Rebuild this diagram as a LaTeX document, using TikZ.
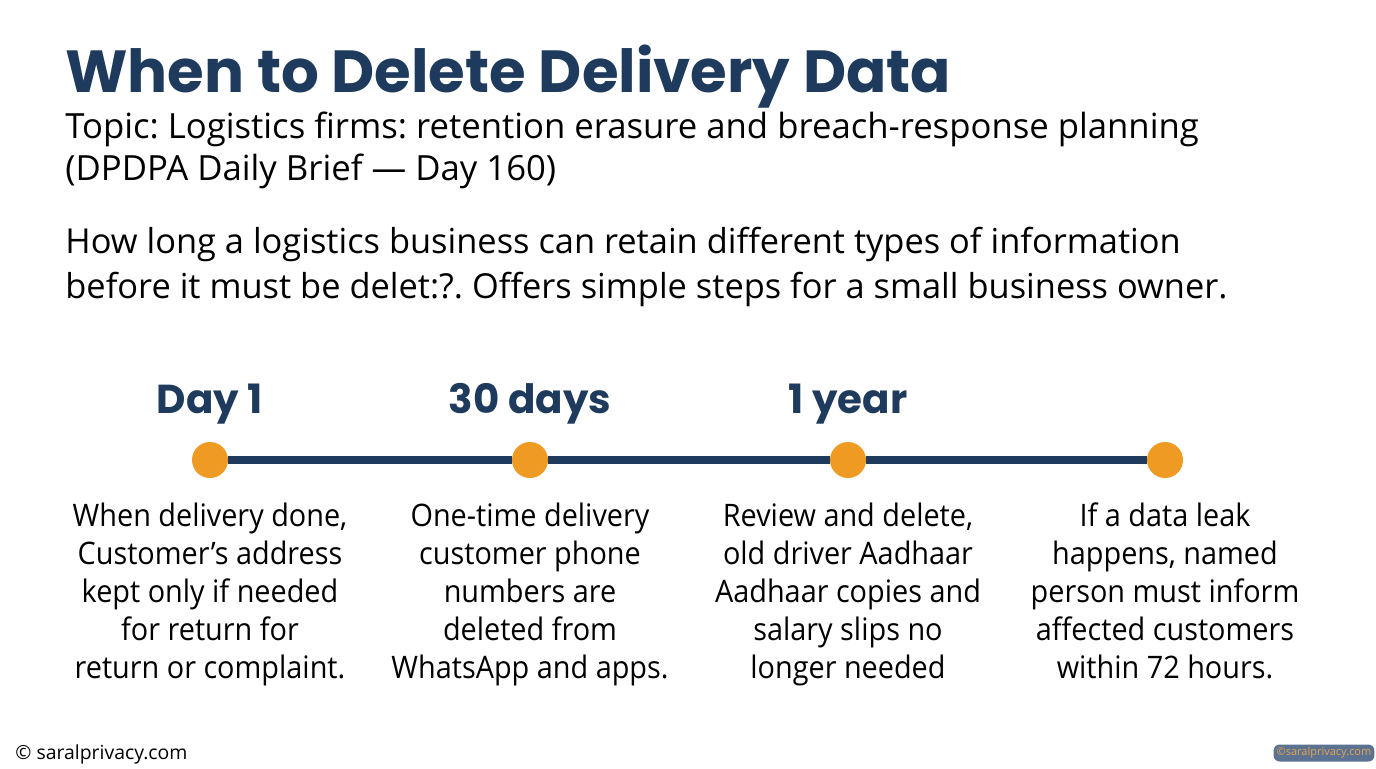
\documentclass[tikz,border=0pt]{standalone}
\usepackage{fontspec}
\setmainfont{Open Sans}
\newfontfamily\headfont{Poppins}
\newfontfamily\notefont{Open Sans}[FakeStretch=0.93]
\usepackage{xcolor}
\usetikzlibrary{positioning}
\definecolor{navycol}{HTML}{1E3A5C}
\definecolor{dotcol}{HTML}{EF9A22}
\definecolor{markcol}{HTML}{5B7291}
\definecolor{marktext}{HTML}{E6A452}
\frenchspacing

\begin{document}
\begin{tikzpicture}[x=0.5pt,y=-0.5pt,
   heading/.style={anchor=base west,inner sep=0pt,text=navycol,
              font=\headfont\bfseries\fontsize{29.7}{34}\selectfont},
   lead/.style={anchor=base west,inner sep=0pt,align=left,
              font=\fontsize{17.35}{21}\selectfont},
   intro/.style={anchor=base west,inner sep=0pt,align=left,
              font=\fontsize{17.2}{22.5}\selectfont},
   dot/.style={circle,fill=dotcol,minimum size=18pt,inner sep=0pt},
   tline/.style={draw=navycol,line width=4pt},
   when/.style={inner sep=0pt,text depth=0pt,text=navycol,
              font=\headfont\bfseries\fontsize{20.2}{23}\selectfont},
   note/.style={align=center,inner sep=0pt,
              font=\notefont\fontsize{15.5}{19}\selectfont},
   node distance=12pt,
]
\useasboundingbox (0,0) rectangle (1376,768);

% title block
\node[heading] (title) at (65,92) {When to Delete Delivery Data};
\node[lead] (topic) at (65,180) {Topic: Logistics firms: retention erasure and breach-response planning\\(DPDPA Daily Brief --- Day 160)};
\node[intro] (about) at (65,298) {How long a logistics business can retain different types of information\\before it must be delet:?. Offers simple steps for a small business owner.};

% timeline dots
\node[dot] (d1) at (210,460) {};
\node[dot] (d2) at (530,460) {};
\node[dot] (d3) at (848,460) {};
\node[dot] (d4) at (1165,460) {};

\draw[tline] (d1.east) -- (d2.west);
\draw[tline] (d2.east) -- (d3.west);
\draw[tline] (d3.east) -- (d4.west);

% time labels
\node[when,above=14pt of d1] (t1) {Day 1};
\node[when,above=14pt of d2] (t2) {30 days};
\node[when,above=14pt of d3] (t3) {1 year};

% what happens
\node[note,below=of d1] (n1) {When delivery done,\\Customer’s address\\kept only if needed\\for return for\\return or complaint.};
\node[note,below=of d2] (n2) {One-time delivery\\customer phone\\numbers are\\deleted from\\WhatsApp and apps.};
\node[note,below=of d3] (n3) {Review and delete,\\old driver Aadhaar\\Aadhaar copies and\\salary slips no\\longer needed};
\node[note,below=of d4] (n4) {If a data leak\\happens, named\\person must inform\\affected customers\\within 72 hours.};

% footer
\node[anchor=base west,inner sep=0pt,font=\fontsize{9.7}{12}\selectfont] (foot) at (15,759) {© saralprivacy.com};
\node[fill=markcol,rounded corners=3pt,text=marktext,inner sep=1.5pt,
      font=\fontsize{5.5}{6}\selectfont] (mark) at (1324,753) {©saralprivacy.com};
\end{tikzpicture}
\end{document}
